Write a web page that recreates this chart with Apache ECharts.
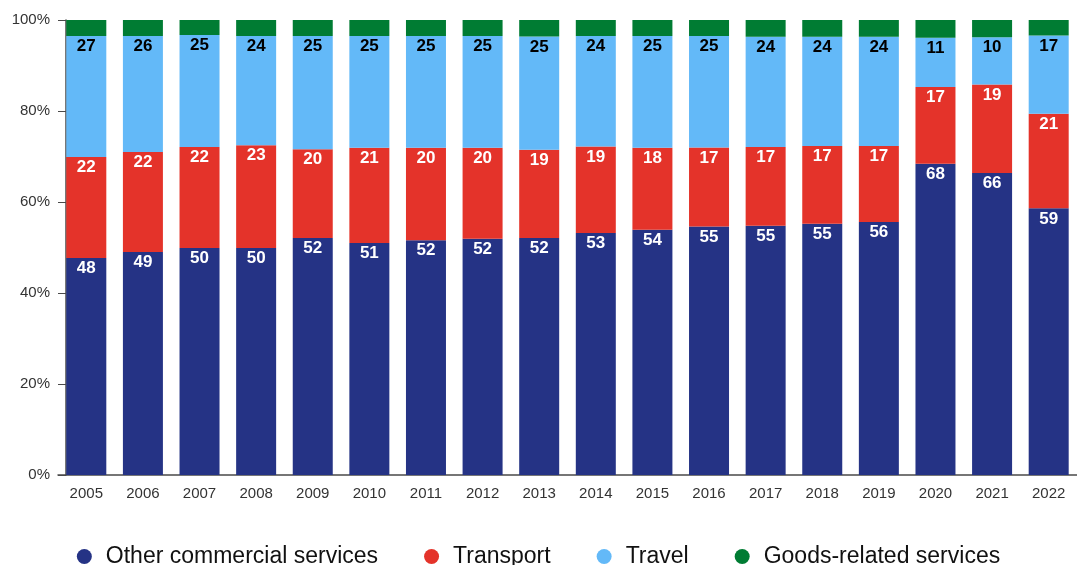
<!DOCTYPE html>
<html>
<head>
<meta charset="utf-8">
<script src="https://cdn.jsdelivr.net/npm/echarts@6/dist/echarts.min.js"></script>
<style>
  html, body { margin: 0; padding: 0; background: #fff; }
  #chart { width: 1077px; height: 565px; }
</style>
</head>
<body>
<div id="chart"></div>
<script>
// shares in %
const years = ['2005','2006','2007','2008','2009','2010','2011','2012','2013','2014','2015','2016','2017','2018','2019','2020','2021','2022'];
const otherServices = [47.7, 49.0, 49.9, 49.9, 52.1, 51.0, 51.6, 51.9, 52.1, 53.2, 53.9, 54.6, 54.8, 55.2, 55.6, 68.4, 66.4, 58.6];
const transport = [22.2, 22.0, 22.2, 22.6, 19.5, 20.9, 20.3, 20.0, 19.4, 19.0, 18.0, 17.4, 17.3, 17.1, 16.7, 16.9, 19.4, 20.8];
const travel = [26.6, 25.5, 24.6, 24.0, 24.9, 24.6, 24.6, 24.6, 24.9, 24.3, 24.6, 24.5, 24.2, 24.0, 24.0, 10.8, 10.4, 17.2];
const goodsRelated = [3.5, 3.5, 3.3, 3.5, 3.5, 3.5, 3.5, 3.5, 3.6, 3.5, 3.5, 3.5, 3.7, 3.7, 3.7, 3.9, 3.8, 3.4];
const yTicks = [0, 20, 40, 60, 80, 100];

const font = '"Liberation Sans", Arial, sans-serif';

function makeSeries(name, data, color, labelColor) {
  return {
    name: name,
    type: 'bar',
    stack: 'total',
    data: data,
    barWidth: 40,
    itemStyle: { color: color },
    label: labelColor ? {
      show: true,
      position: 'insideTop',
      distance: 2,
      color: labelColor,
      fontFamily: font,
      fontWeight: 'bold',
      fontSize: 17,
      formatter: p => Math.round(p.value)
    } : { show: false }
  };
}

const chart = echarts.init(document.getElementById('chart'));
chart.setOption({
  animation: false,
  grid: { left: 58, right: -8, top: 20, bottom: 90 },
  legend: {
    bottom: -8,
    left: 'center',
    icon: 'circle',
    itemWidth: 15,
    itemHeight: 15,
    itemGap: 46,
    textStyle: { fontFamily: font, fontSize: 23, color: '#111', padding: [0, 0, 0, 9] },
    data: ['Other commercial services', 'Transport', 'Travel', 'Goods-related services']
  },
  xAxis: {
    type: 'category',
    data: years,
    axisLine: { lineStyle: { color: '#4a4a4a', width: 1.5 } },
    axisTick: { alignWithLabel: true, length: 3, lineStyle: { color: '#bbb' } },
    axisLabel: { fontFamily: font, fontSize: 15, color: '#333', margin: 11 }
  },
  yAxis: {
    type: 'value',
    min: 0,
    max: 100,
    interval: 20,
    offset: -8,
    axisLine: { show: true, lineStyle: { color: '#4a4a4a', width: 1.5 } },
    axisTick: { show: true, length: 8, lineStyle: { color: '#4a4a4a' } },
    splitLine: { show: false },
    axisLabel: {
      fontFamily: font, fontSize: 15, color: '#333', margin: 16,
      formatter: v => yTicks.includes(v) ? v + '%' : ''
    }
  },
  series: [
    makeSeries('Other commercial services', otherServices, '#253385', '#fff'),
    makeSeries('Transport', transport, '#e4332a', '#fff'),
    makeSeries('Travel', travel, '#63b9f8', '#000'),
    makeSeries('Goods-related services', goodsRelated, '#007c33', null)
  ]
});
</script>
</body>
</html>
